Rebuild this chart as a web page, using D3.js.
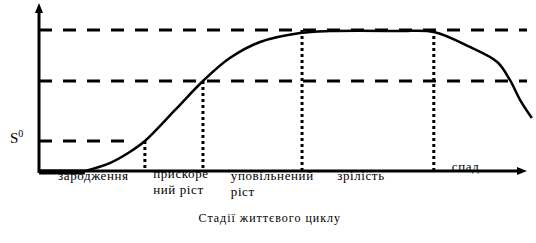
<!DOCTYPE html>
<html>
<head>
<meta charset="utf-8">
<script src="https://cdn.jsdelivr.net/npm/d3@7"></script>
<style>
  html, body { margin: 0; padding: 0; background: #fff; }
  svg { display: block; }
</style>
</head>
<body>
<div id="chart"></div>
<script>
// stages along the life cycle (x, 0..100) and S level (y, 0..112)
const stageBounds = [21.7, 33.6, 53.9, 80.9];
const levels = [20, 60, 94];
const levelEnds = [17.7, 100, 100];
const curveX = [9.4, 14.5, 18.6, 21.7, 27.9, 33.6, 39.1, 45.3, 53.5, 59.6, 74, 80.9, 88.3, 93.9, 96.5, 98.6, 101];
const curveY = [0, 5.3, 12.7, 20, 40.7, 60, 75.3, 86, 92, 93.3, 93.3, 92.7, 82.7, 72.7, 60.7, 47.3, 35.3];
const stageLabels = [
  {x: 3.9, lines: ['зародження'], y: 0},
  {x: 23.4, lines: ['прискоре', 'ний ріст'], y: -2},
  {x: 39.3, lines: ['уповільнений', 'ріст'], y: 0},
  {x: 61.1, lines: ['зрілість'], y: 0},
  {x: 84.6, lines: ['спад'], y: -9}
];
const xTitle = 'Стадії життєвого циклу';

let width = 536,
    height = 243,
    serif = 'Liberation Serif';

const x = d3.scaleLinear().domain([0, 100]).range([39, 527]);
const y = d3.scaleLinear().domain([0, 112]).range([171, 3]);

const $svg = d3.select('#chart').append('svg')
  .attr('width', width)
  .attr('height', height);

const $chart = $svg.append('g');

// dashed level lines
$chart.selectAll('line.level')
  .data(levels)
  .enter().append('line')
    .attr('class', 'level')
    .attr('x1', x(0))
    .attr('x2', (d, i) => x(levelEnds[i]))
    .attr('y1', d => y(d))
    .attr('y2', d => y(d))
    .attr('stroke', '#000')
    .attr('stroke-width', 3)
    .attr('stroke-dasharray', '13,11');

// dotted stage dividers, each from the curve level down to the axis
const stageTop = [levels[0], levels[1], levels[2], levels[2]];
$chart.selectAll('line.stage')
  .data(stageBounds)
  .enter().append('line')
    .attr('class', 'stage')
    .attr('x1', d => x(d))
    .attr('x2', d => x(d))
    .attr('y1', (d, i) => y(stageTop[i]))
    .attr('y2', y(0))
    .attr('stroke', '#000')
    .attr('stroke-width', 3)
    .attr('stroke-dasharray', '3,3');

// axes
$chart.append('line')
  .attr('x1', x(0)).attr('x2', x(0))
  .attr('y1', y(0) + 2).attr('y2', y(112) + 6)
  .attr('stroke', '#000').attr('stroke-width', 3);
$chart.append('path')
  .attr('d', `M${x(0)},${y(112)} l-4,10 l8,0 z`)
  .attr('fill', '#000');

$chart.append('line')
  .attr('x1', x(0) - 1).attr('x2', x(100) - 6)
  .attr('y1', y(0)).attr('y2', y(0))
  .attr('stroke', '#000').attr('stroke-width', 3);
$chart.append('path')
  .attr('d', `M${x(100)},${y(0)} l-10,-4 l0,8 z`)
  .attr('fill', '#000');

// thick start segment of the curve on the axis
$chart.append('line')
  .attr('x1', x(0)).attr('x2', x(curveX[0]))
  .attr('y1', y(0) + 1).attr('y2', y(0) + 1)
  .attr('stroke', '#000').attr('stroke-width', 5);

// life-cycle curve
const points = curveX.map((d, i) => [d, curveY[i]]);
const line = d3.line()
  .x(d => x(d[0]))
  .y(d => y(d[1]))
  .curve(d3.curveCatmullRom.alpha(0.5));

$chart.append('path')
  .datum(points)
  .attr('d', line)
  .attr('fill', 'none')
  .attr('stroke', '#000')
  .attr('stroke-width', 2.5);

// stage labels
const $labels = $chart.selectAll('text.stage')
  .data(stageLabels)
  .enter().append('text')
    .attr('class', 'stage')
    .attr('x', d => x(d.x))
    .attr('y', d => y(0) + 9 + d.y)
    .attr('font-family', serif)
    .attr('font-size', 13)
    .attr('letter-spacing', 0.6);
$labels.selectAll('tspan')
  .data(d => d.lines.map(l => ({t: l, x: d.x})))
  .enter().append('tspan')
    .attr('x', d => x(d.x))
    .attr('dy', (d, i) => i === 0 ? 0 : 16)
    .text(d => d.t);

// axis titles
$chart.append('text')
  .attr('x', x(47.3))
  .attr('y', 222)
  .attr('text-anchor', 'middle')
  .attr('font-family', serif)
  .attr('font-size', 12)
  .attr('letter-spacing', 1)
  .text(xTitle);

const $s = $chart.append('text')
  .attr('x', 10)
  .attr('y', 143)
  .attr('font-family', serif)
  .attr('font-size', 15);
$s.append('tspan').text('S');
$s.append('tspan').attr('dy', -6).attr('font-size', 10).text('0');
</script>
</body>
</html>
